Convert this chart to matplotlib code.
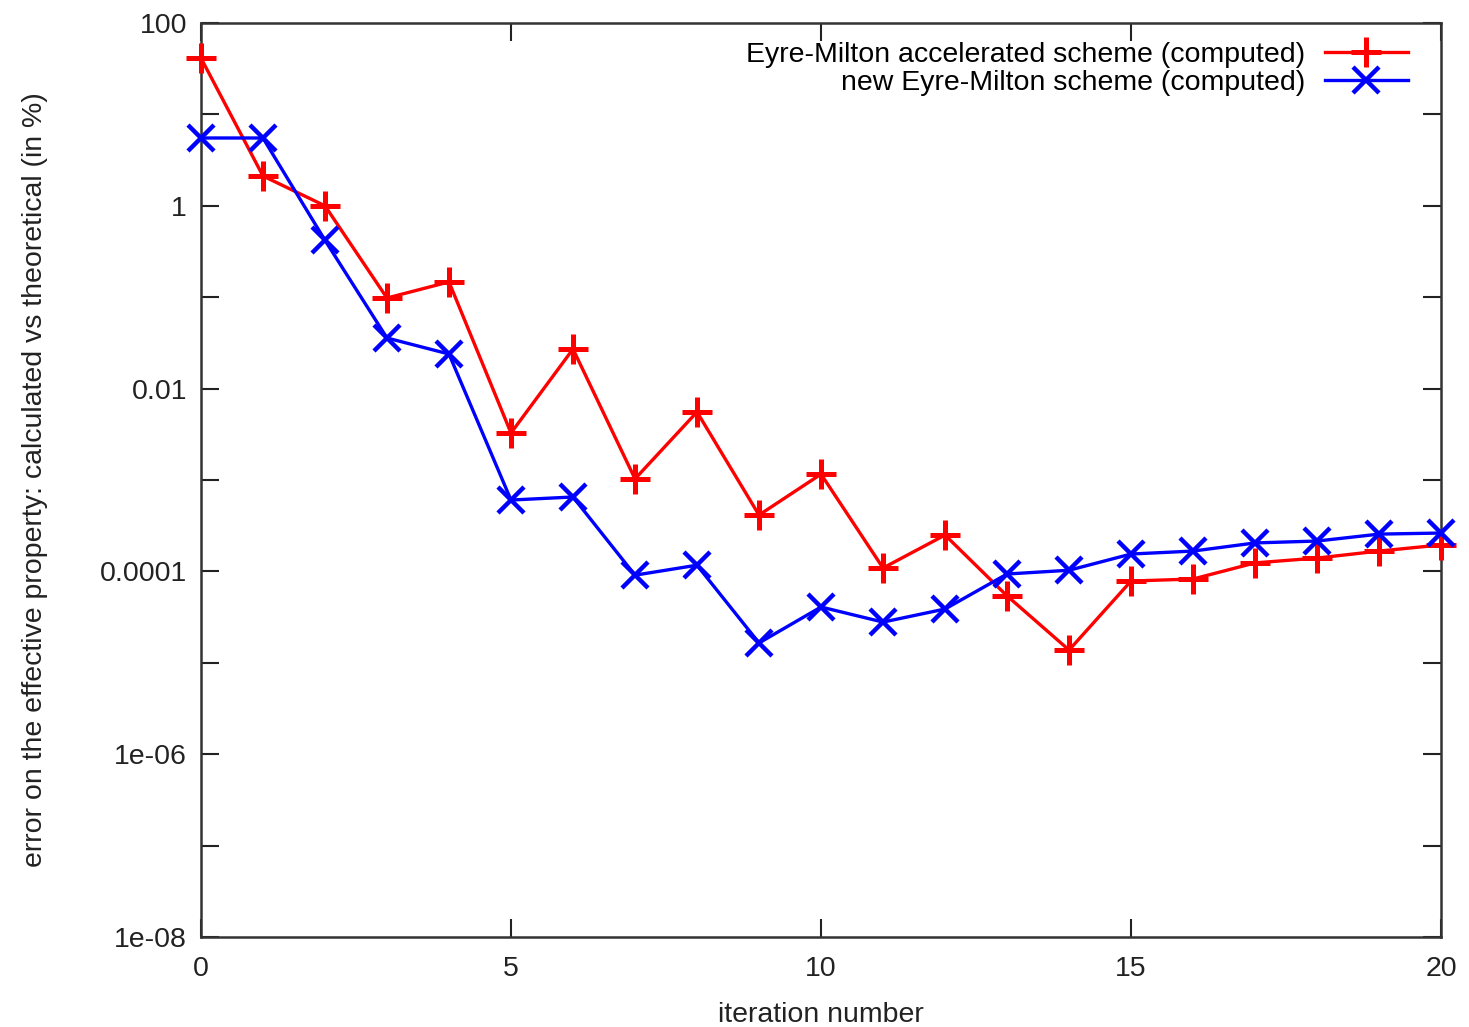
import numpy as np
import matplotlib
matplotlib.use('Agg')
import matplotlib.pyplot as plt
from matplotlib.ticker import FixedLocator, FixedFormatter, NullLocator

plt.rcParams['font.family'] = ['Liberation Sans', 'DejaVu Sans']

# iteration numbers
iterations = list(range(21))

# error (in %)
accelerated = [41.4, 2.12, 1.0, 0.098, 0.147, 0.00327, 0.0271, 0.00103, 0.00555,
               0.000414, 0.00116, 0.000109, 0.00025, 5.4e-5, 1.38e-5, 7.85e-5,
               8.26e-5, 1.24e-4, 1.40e-4, 1.67e-4, 1.95e-4]
new_scheme = [5.52, 5.52, 0.42, 0.0358, 0.0239, 6.04e-4, 6.52e-4, 9.1e-5, 1.17e-4,
              1.65e-5, 4.08e-5, 2.79e-5, 3.88e-5, 9.37e-5, 1.03e-4, 1.55e-4,
              1.67e-4, 2.05e-4, 2.15e-4, 2.56e-4, 2.63e-4]

label_acc = 'Eyre-Milton accelerated scheme (computed)'
label_new = 'new Eyre-Milton scheme (computed)'

y_tick_vals = [1e2, 1, 1e-2, 1e-4, 1e-6, 1e-8]
y_tick_labels = ['100', '1', '0.01', '0.0001', '1e-06', '1e-08']

fs = 20.5

fig = plt.figure(figsize=(14.69, 10.27), dpi=100)
ax = fig.add_axes([0.1368, 0.0876, 0.8442, 0.89])

ax.plot(iterations, accelerated, color='#ff0000', lw=2.4, marker='+', ms=21, mew=3.6,
        label=label_acc, clip_on=False, zorder=3)
ax.plot(iterations, new_scheme, color='#0000ff', lw=2.4, marker='x', ms=19, mew=3.2,
        label=label_new, clip_on=False, zorder=3)

ax.set_yscale('log')
ax.set_xlim(0, 20)
ax.set_ylim(1e-8, 1e2)
ax.set_xticks([0, 5, 10, 15, 20])
ax.yaxis.set_major_locator(FixedLocator([10.0 ** k for k in range(-8, 3)]))
ax.yaxis.set_major_formatter(FixedFormatter(
    [y_tick_labels[y_tick_vals.index(10.0 ** k)] if k % 2 == 0 else '' for k in range(-8, 3)]))
ax.yaxis.set_minor_locator(NullLocator())

ax.tick_params(direction='in', length=13, width=1.5, top=True, right=True,
               labelsize=fs, colors='#222222')
ax.tick_params(axis='x', pad=14)
ax.tick_params(axis='y', pad=10)
for s in ax.spines.values():
    s.set_linewidth(1.8)
    s.set_color('#333333')

ax.set_xlabel('iteration number', fontsize=fs, color='#222222', labelpad=14)
ax.set_ylabel('error on the effective property: calculated vs theoretical (in %)',
              fontsize=fs, color='#222222', labelpad=37)

ax.legend(loc='upper right', bbox_to_anchor=(0.988, 1.0), frameon=False,
          markerfirst=False, fontsize=fs, handlelength=2.9, labelspacing=0.1,
          borderaxespad=0.3, handletextpad=0.7, borderpad=0.35)

plt.savefig('out.png', dpi=100)
